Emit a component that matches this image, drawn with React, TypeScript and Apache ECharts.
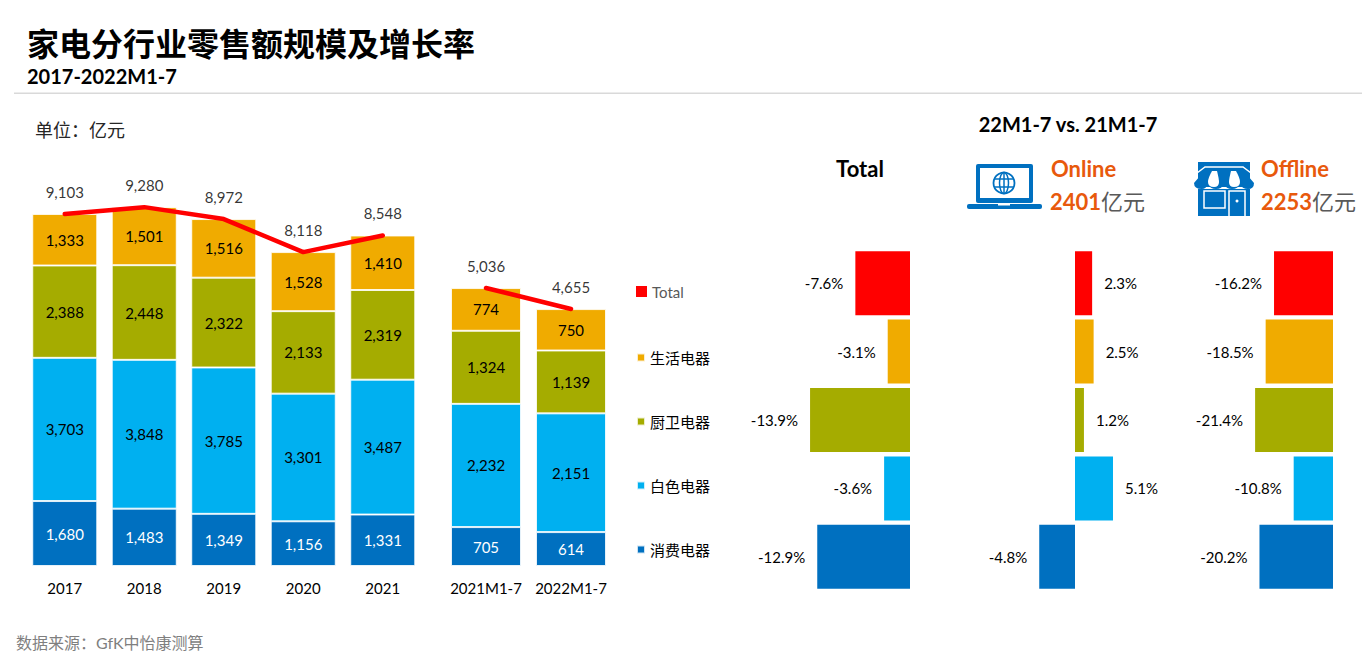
import React, { useEffect, useRef } from "react";
import * as echarts from "echarts";

const yearCats = ["2017", "2018", "2019", "2020", "2021"];
const ytdCats = ["2021M1-7", "2022M1-7"];
const consumerYear = [1680, 1483, 1349, 1156, 1331];
const whiteYear = [3703, 3848, 3785, 3301, 3487];
const kitchenYear = [2388, 2448, 2322, 2133, 2319];
const livingYear = [1333, 1501, 1516, 1528, 1410];
const totalYear = [9103, 9280, 8972, 8118, 8548];
const consumerYtd = [705, 614];
const whiteYtd = [2232, 2151];
const kitchenYtd = [1324, 1139];
const livingYtd = [774, 750];
const totalYtd = [5036, 4655];
const growthCats = ["Total", "生活电器", "厨卫电器", "白色电器", "消费电器"];
const growthTotal = [-7.6, -3.1, -13.9, -3.6, -12.9];
const growthOnline = [2.3, 2.5, 1.2, 5.1, -4.8];
const growthOffline = [-16.2, -18.5, -21.4, -10.8, -20.2];

const RED = "#FF0000";
const ORANGE = "#F0AB00";
const OLIVE = "#A5AC00";
const SKY = "#00B0F0";
const BLUE = "#0070C0";
const ACCENT = "#E8590C";
const growthColors = [RED, ORANGE, OLIVE, SKY, BLUE];
const FONT = "Lato, 'Noto Sans CJK SC', sans-serif";

const AWNING =
  "M7 0 L43 0 L55 14 Q55 20 49 20 Q43 20 41 15 Q39 20 33 20 Q27 20 25 15 Q23 20 17 20 Q11 20 9 15 Q7 20 3 20 Q-5 20 -5 14 Z";
const STRIPE = "M4 0 L9 0 Q11 8 11 11 Q11 16 6 16 Q0 16 0 11 Q0 7 4 0 Z";
const STRIPE2 = "M2 0 L7 0 Q11 7 11 11 Q11 16 5 16 Q0 16 0 11 Q0 8 2 0 Z";
echarts.graphic.registerShape("awning", echarts.graphic.extendPath(AWNING, {}) as any);
echarts.graphic.registerShape("stripeA", echarts.graphic.extendPath(STRIPE, {}) as any);
echarts.graphic.registerShape("stripeB", echarts.graphic.extendPath(STRIPE2, {}) as any);

const fmt = (p: any) => Number(p.value).toLocaleString("en-US");

function stacked(name: string, color: string, data: number[], idx: number, barWidth: number, labelColor = "#000") {
  return {
    name,
    type: "bar",
    stack: "s" + idx,
    xAxisIndex: idx,
    yAxisIndex: idx,
    data,
    barWidth,
    itemStyle: { color, borderColor: "rgba(255,255,255,0.8)", borderWidth: 1 },
    label: { show: true, position: "inside", color: labelColor, fontSize: 15, fontFamily: FONT, formatter: fmt },
  };
}

function totalLine(data: number[], idx: number) {
  return {
    name: "Total",
    type: "line",
    xAxisIndex: idx,
    yAxisIndex: idx,
    data,
    z: 5,
    symbol: "none",
    showSymbol: true,
    lineStyle: { color: RED, width: 4.5, cap: "round", join: "round" },
    itemStyle: { color: RED },
    label: { show: false },
  };
}

function totalLabels(data: number[], idx: number) {
  return {
    name: "TotalLabel" + idx,
    type: "scatter",
    xAxisIndex: idx,
    yAxisIndex: idx,
    data,
    z: 6,
    symbolSize: 1,
    itemStyle: { color: "transparent" },
    label: { show: true, position: "top", distance: 14, color: "#000", fontSize: 15, fontFamily: FONT, formatter: fmt },
  };
}

function growthBar(name: string, data: number[], idx: number) {
  return {
    name,
    type: "bar",
    xAxisIndex: idx,
    yAxisIndex: idx,
    barWidth: 64,
    data: data.map((v, i) => ({ value: v, itemStyle: { color: growthColors[i] } })),
    label: {
      show: true,
      position: "outside",
      distance: 12,
      color: "#000",
      fontSize: 15,
      fontFamily: FONT,
      formatter: (p: any) => Number(p.value).toFixed(1) + "%",
    },
  };
}

function legendItem(name: string, top: number, size: number, color = "#000") {
  return {
    data: [name],
    left: 631,
    top,
    icon: "rect",
    itemWidth: size,
    itemHeight: size,
    itemGap: 0,
    selectedMode: false,
    textStyle: { color, fontSize: 15, fontFamily: FONT },
  };
}

function text(x: number, y: number, t: string, fontSize: number, fill: string, fontWeight: any = 400, align = "left") {
  return {
    type: "text",
    x,
    y,
    silent: true,
    style: { text: t, fontSize, fontWeight, fontFamily: FONT, fill, textAlign: align, textVerticalAlign: "middle" },
  };
}

function amount(x: number, y: number, num: string) {
  return {
    type: "text",
    x,
    y,
    silent: true,
    style: {
      text: `{a|${num}}{b|亿元}`,
      fontFamily: FONT,
      textVerticalAlign: "middle",
      rich: {
        a: { fontSize: 22, fontWeight: 700, fill: ACCENT, fontFamily: FONT },
        b: { fontSize: 22, fill: "#595959", fontFamily: FONT },
      },
    },
  };
}

const laptop = {
  type: "group",
  silent: true,
  children: [
    { type: "rect", shape: { x: 976, y: 164, width: 57, height: 39, r: 2 }, style: { fill: BLUE } },
    { type: "rect", shape: { x: 980, y: 168, width: 49, height: 30 }, style: { fill: "#fff" } },
    { type: "rect", shape: { x: 967, y: 204, width: 75, height: 5, r: 2 }, style: { fill: BLUE } },
    { type: "rect", shape: { x: 998, y: 204, width: 12, height: 1.5 }, style: { fill: "#fff" } },
    { type: "circle", shape: { cx: 1004, cy: 183, r: 10.5 }, style: { fill: "none", stroke: BLUE, lineWidth: 1.8 } },
    { type: "ellipse", shape: { cx: 1004, cy: 183, rx: 4.5, ry: 10.5 }, style: { fill: "none", stroke: BLUE, lineWidth: 1.5 } },
    { type: "line", shape: { x1: 1004, y1: 172.5, x2: 1004, y2: 193.5 }, style: { stroke: BLUE, lineWidth: 1.5 } },
    { type: "line", shape: { x1: 994, y1: 179, x2: 1014, y2: 179 }, style: { stroke: BLUE, lineWidth: 1.5 } },
    { type: "line", shape: { x1: 994, y1: 187, x2: 1014, y2: 187 }, style: { stroke: BLUE, lineWidth: 1.5 } },
  ],
};

const store = {
  type: "group",
  silent: true,
  children: [
    { type: "rect", shape: { x: 1198, y: 162, width: 52, height: 54 }, style: { fill: BLUE } },
    { type: "polyline", shape: { points: [[1197, 173], [1205, 167], [1243, 167], [1251, 173]] }, style: { fill: "none", stroke: "#fff", lineWidth: 1.5 } },
    { type: "rect", shape: { x: 1198, y: 187, width: 52, height: 2 }, style: { fill: "#fff" } },
    { type: "awning", x: 1199, y: 169, style: { fill: BLUE } },
    { type: "stripeA", x: 1208, y: 171, style: { fill: "#fff" } },
    { type: "stripeB", x: 1229, y: 171, style: { fill: "#fff" } },
    { type: "rect", shape: { x: 1204, y: 191, width: 21, height: 17 }, style: { fill: BLUE, stroke: "#fff", lineWidth: 1.5 } },
    { type: "rect", shape: { x: 1229, y: 191, width: 16, height: 26 }, style: { fill: BLUE, stroke: "#fff", lineWidth: 1.5 } },
    { type: "rect", shape: { x: 1226, y: 216, width: 22, height: 3 }, style: { fill: "#fff" } },
    { type: "circle", shape: { cx: 1237, cy: 201, r: 1.5 }, style: { fill: "#fff" } },
  ],
};

const hiddenValueX = (gridIndex: number, min: number, max: number) => ({
  type: "value",
  gridIndex,
  min,
  max,
  show: false,
});
const hiddenCatY = (gridIndex: number) => ({
  type: "category",
  gridIndex,
  data: growthCats,
  inverse: true,
  show: false,
});
const catX = (gridIndex: number, data: string[]) => ({
  type: "category",
  gridIndex,
  data,
  axisLine: { show: false },
  axisTick: { show: false },
  axisLabel: { color: "#000", fontSize: 15, fontFamily: FONT, margin: 14, interval: 0 },
});
const valY = (gridIndex: number, max: number) => ({
  type: "value",
  gridIndex,
  min: 0,
  max,
  show: false,
});

export default function App() {
  const ref = useRef<HTMLDivElement>(null);
  useEffect(() => {
    document.body.style.margin = "0";
    const chart = echarts.init(ref.current!, undefined, { renderer: "svg" });
    chart.setOption({
      animation: false,
      backgroundColor: "#fff",
      textStyle: { fontFamily: FONT },
      grid: [
        { left: 25, top: 166, width: 397.5, height: 400 },
        { left: 443.5, top: 166, width: 170, height: 400 },
        { left: 790, top: 249, width: 130, height: 342 },
        { left: 1000, top: 249, width: 130, height: 342 },
        { left: 1230, top: 249, width: 130, height: 342 },
      ],
      xAxis: [
        catX(0, yearCats),
        catX(1, ytdCats),
        hiddenValueX(2, -120 / 7.19, 10 / 7.19),
        hiddenValueX(3, -75 / 7.45, 55 / 7.45),
        hiddenValueX(4, -103 / 3.64, 27 / 3.64),
      ],
      yAxis: [valY(0, 10344), valY(1, 7246), hiddenCatY(2), hiddenCatY(3), hiddenCatY(4)],
      legend: [
        legendItem("Total", 279, 11, "#595959"),
        legendItem("生活电器", 345, 8),
        legendItem("厨卫电器", 409, 8),
        legendItem("白色电器", 473, 8),
        legendItem("消费电器", 537, 8),
      ],
      series: [
        stacked("消费电器", BLUE, consumerYear, 0, 65, "#fff"),
        stacked("白色电器", SKY, whiteYear, 0, 65),
        stacked("厨卫电器", OLIVE, kitchenYear, 0, 65),
        stacked("生活电器", ORANGE, livingYear, 0, 65),
        totalLine(totalYear, 0),
        totalLabels(totalYear, 0),
        stacked("消费电器", BLUE, consumerYtd, 1, 70, "#fff"),
        stacked("白色电器", SKY, whiteYtd, 1, 70),
        stacked("厨卫电器", OLIVE, kitchenYtd, 1, 70),
        stacked("生活电器", ORANGE, livingYtd, 1, 70),
        totalLine(totalYtd, 1),
        totalLabels(totalYtd, 1),
        growthBar("Total增长", growthTotal, 2),
        growthBar("Online增长", growthOnline, 3),
        growthBar("Offline增长", growthOffline, 4),
      ],
      graphic: [
        text(27, 43, "家电分行业零售额规模及增长率", 32, "#000", 700),
        text(27, 76, "2017-2022M1-7", 20, "#000", 700),
        { type: "rect", silent: true, shape: { x: 14, y: 92.5, width: 1348, height: 1.5 }, style: { fill: "#D9D9D9" } },
        text(35, 130, "单位：亿元", 18, "#262626"),
        text(1068, 124, "22M1-7 vs. 21M1-7", 20, "#000", 700, "center"),
        text(860, 168, "Total", 22, "#000", 700, "center"),
        text(1051, 168, "Online", 22, ACCENT, 700),
        amount(1050, 201, "2401"),
        text(1261, 168, "Offline", 22, ACCENT, 700),
        amount(1261, 201, "2253"),
        laptop,
        store,
        text(16, 642, "数据来源：GfK中怡康测算", 16, "#7F7F7F"),
      ],
    } as any);
    return () => chart.dispose();
  }, []);
  return <div ref={ref} style={{ position: "absolute", left: 0, top: 0, width: 1362, height: 656 }} />;
}
